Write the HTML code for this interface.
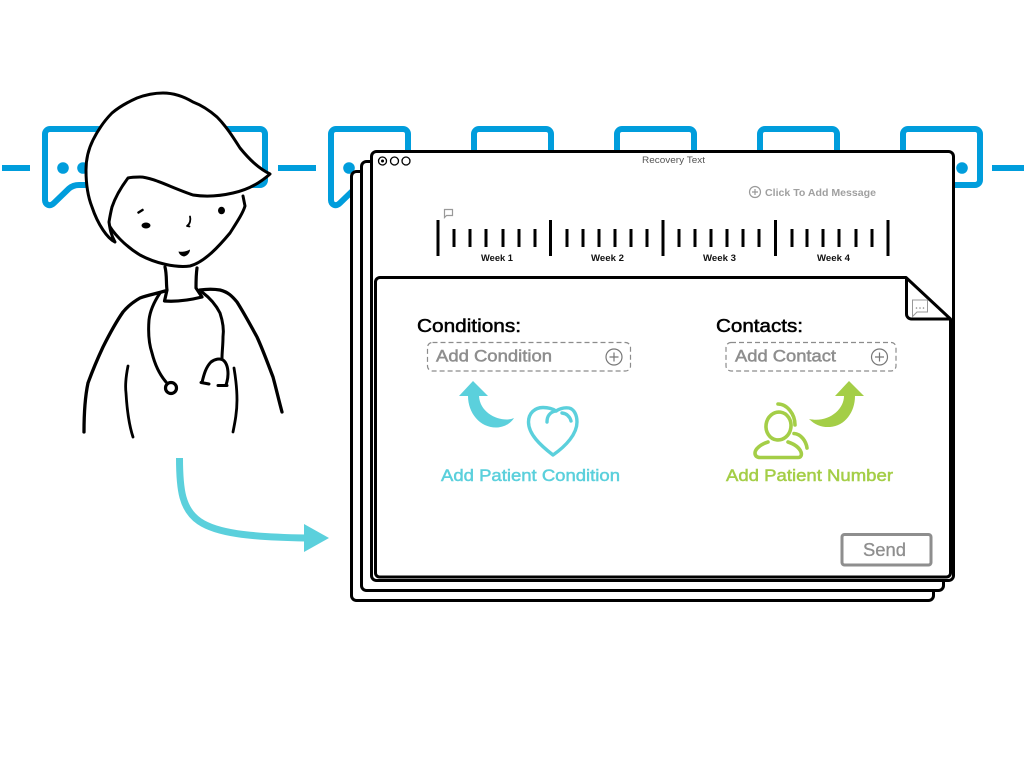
<!DOCTYPE html>
<html><head><meta charset="utf-8"><style>
html,body{margin:0;padding:0;background:#fff;width:1024px;height:768px;overflow:hidden}
svg{display:block}
text{font-family:"Liberation Sans",sans-serif}
</style></head><body>
<svg xmlns="http://www.w3.org/2000/svg" width="1024" height="768" viewBox="0 0 1024 768">
<defs>
<path id="b" d="M8,129H75a5,5 0 0 1 5,5V180a5,5 0 0 1 -5,5H37C33,185 30,186 27,188.500L12,203C8,207 3,205 3,200V134a5,5 0 0 1 5,-5Z" fill="#fff" stroke="#009ddc" stroke-width="6" stroke-linejoin="round"/>
</defs>
<g fill="#009ddc">
<rect x="2" y="165" width="28" height="6"/><rect x="278" y="165" width="38" height="6"/><rect x="992" y="165" width="32" height="6"/>
</g>
<use href="#b" x="42"/><use href="#b" x="185"/><use href="#b" x="328"/><use href="#b" x="471"/><use href="#b" x="614"/><use href="#b" x="757"/><use href="#b" x="900"/>
<g fill="#009ddc">
<circle cx="63" cy="168" r="5.800"/><circle cx="83" cy="168" r="5.800"/><circle cx="349" cy="168" r="5.800"/><circle cx="962" cy="168" r="5.800"/>
</g>

<g fill="#fff" stroke="#000" stroke-width="3">
<rect x="351.500" y="171.500" width="582" height="429" rx="5"/>
<rect x="361.500" y="161.500" width="582" height="429" rx="5"/>
<rect x="371.500" y="151.500" width="582" height="429" rx="5"/>
</g>
<g fill="none" stroke="#000" stroke-width="1.300">
<circle cx="382.500" cy="161" r="4"/><circle cx="394.500" cy="161" r="4"/><circle cx="406" cy="161" r="4"/>
</g>
<circle cx="382.500" cy="161" r="1.500"/>
<text x="642" y="163" font-size="9" fill="#555" textLength="63" lengthAdjust="spacingAndGlyphs">Recovery Text</text>

<g fill="none" stroke="#999" stroke-width="1.200"><circle cx="755" cy="192" r="5.500"/><path d="M752,192H758M755,189V195"/></g>
<text x="765" y="196" font-size="10.500" font-weight="bold" fill="#a0a0a0" textLength="111" lengthAdjust="spacingAndGlyphs">Click To Add Message</text>

<path d="M444.500,209.500H452.500V215.500H446.500L444.500,217.500Z" fill="none" stroke="#999" stroke-width="1.200"/>

<g stroke="#000" stroke-width="3">
<path d="M438,220V256M550.500,220V256M663,220V256M775.500,220V256M888,220V256"/>
<path d="M454,229V247M470,229V247M486,229V247M503,229V247M519,229V247M535,229V247M567,229V247M583,229V247M599,229V247M615,229V247M631,229V247M647,229V247M679,229V247M695,229V247M711,229V247M727,229V247M743,229V247M759,229V247M792,229V247M807,229V247M823,229V247M839,229V247M856,229V247M872,229V247"/>
</g>
<g font-size="9" font-weight="bold" fill="#111">
<text x="481" y="261" textLength="32" lengthAdjust="spacingAndGlyphs">Week 1</text>
<text x="591" y="261" textLength="33" lengthAdjust="spacingAndGlyphs">Week 2</text>
<text x="703" y="261" textLength="33" lengthAdjust="spacingAndGlyphs">Week 3</text>
<text x="817" y="261" textLength="33" lengthAdjust="spacingAndGlyphs">Week 4</text>
</g>

<path d="M380,277.500H906L950.500,319V573a4,4 0 0 1 -4,4H379.500a4,4 0 0 1 -4,-4V282a4.500,4.500 0 0 1 4.500,-4.500Z" fill="#fff" stroke="#000" stroke-width="3" stroke-linejoin="round"/>
<path d="M906.500,277.500V314a5,5 0 0 0 5,5H950.500" fill="none" stroke="#000" stroke-width="3"/>
<path d="M912.500,300H927.500V312H917L912.500,316.500Z" fill="#fff" stroke="#999" stroke-width="1"/>
<g fill="#888"><circle cx="916.500" cy="308" r=".8"/><circle cx="920" cy="308" r=".8"/><circle cx="923.500" cy="308" r=".8"/></g>

<text x="417" y="332" font-size="18" fill="#000" stroke="#000" stroke-width=".5" textLength="104" lengthAdjust="spacingAndGlyphs">Conditions:</text>
<text x="716" y="332" font-size="18" fill="#000" stroke="#000" stroke-width=".5" textLength="87" lengthAdjust="spacingAndGlyphs">Contacts:</text>

<rect x="427.500" y="342.500" width="203" height="28.500" rx="5" fill="none" stroke="#8c8c8c" stroke-width="1.200" stroke-dasharray="5 3"/>
<rect x="726" y="342.500" width="170" height="28.500" rx="5" fill="none" stroke="#8c8c8c" stroke-width="1.200" stroke-dasharray="5 3"/>
<text x="436" y="361.500" font-size="17" fill="#8e8e8e" stroke="#8e8e8e" stroke-width=".5" textLength="116" lengthAdjust="spacingAndGlyphs">Add Condition</text>
<text x="735" y="361.500" font-size="17" fill="#8e8e8e" stroke="#8e8e8e" stroke-width=".5" textLength="101" lengthAdjust="spacingAndGlyphs">Add Contact</text>
<g fill="none" stroke="#777" stroke-width="1.200">
<circle cx="614" cy="357" r="8"/><path d="M609.500,357H618.500M614,352.500V361.500"/>
<circle cx="879.500" cy="357" r="8"/><path d="M875,357H884M879.500,352.500V361.500"/>
</g>

<path d="M473,381L459,396H468C468,413 480,428 497,427.500C505,427 511,423 514,418C503,423 480,415 479,396H488Z" fill="#5bd0dc"/>
<g fill="none" stroke="#5bd0dc" stroke-width="3.400" stroke-linecap="round" stroke-linejoin="round">
<path d="M553,455C540,445 528.500,434 528.500,422C528.500,413 535,407.500 543,407.500C549,407.500 553,409 556,411C560,408.500 565,407.500 569,408C574,409 577,415 577,422C577,434 566,446 553,455Z"/>
<path d="M547,422C547,416 550,412 556,411"/>
<path d="M562,413C567,413.500 570,417 571,421"/>
</g>
<text x="441" y="481" font-size="17" fill="#5bd0dc" stroke="#5bd0dc" stroke-width=".5" textLength="179" lengthAdjust="spacingAndGlyphs">Add Patient Condition</text>

<path d="M849,381L835,396H844C844,410 828,423 809,419C815,425 822,427.500 830,427C845,426 855,412 855,396H864Z" fill="#a4ce47"/>
<g fill="none" stroke="#a4ce47" stroke-width="3.600" stroke-linecap="round" stroke-linejoin="round">
<ellipse cx="778.500" cy="426" rx="12.500" ry="14" transform="rotate(8 778.500 426)"/>
<path d="M778,404C787,404 795,414 795,425"/>
<path d="M794,433.500C801,434 806,441 807,448"/>
<path d="M768,442C761,444 755,449 755,453C755,456 757,457.500 760,457.500H798C801,457.500 802,455 801,452C799,447 794,444 788,442"/>
</g>
<text x="726" y="481" font-size="17" fill="#a4ce47" stroke="#a4ce47" stroke-width=".5" textLength="167" lengthAdjust="spacingAndGlyphs">Add Patient Number</text>

<rect x="842" y="534.500" width="89" height="30.500" rx="2.500" fill="#fff" stroke="#8e8e8e" stroke-width="3"/>
<text x="863" y="556" font-size="18" fill="#8e8e8e" stroke="#8e8e8e" stroke-width=".3" textLength="43" lengthAdjust="spacingAndGlyphs">Send</text>

<path d="M179.500,458C179.500,522 190,536 306,538" fill="none" stroke="#5bd0dc" stroke-width="7"/>
<path d="M304,524L329,538L304,552Z" fill="#5bd0dc"/>

<g fill="#fff" stroke="#000" stroke-width="3" stroke-linecap="round" stroke-linejoin="round">
<path d="M108,223C112,232 125,246 140,255C155,263 175,268 190,266C205,262 220,245 230,233C237,222 243,213 245,206L243,196L200,170L130,170Z" stroke="none"/>
<path d="M108,223C112,232 125,246 140,255C155,263 175,268 190,266C205,262 220,245 230,233C237,222 243,213 245,206L243,196" fill="none"/>
<path d="M270,174C258,168 249,159 240,148C233,137 226,126 217,117C209,110 201,105 193,102C183,96 173,93 163,93C153,93 145,95 137,98C128,102 119,107 112,113C104,121 98,130 93,140C88,150 86,160 86,170C86,185 88,197 92,207C95,216 99,224 103,230C107,236 111,240 115,242C111,235 110,229 109,222C110,216 111,211 112,207C116,195 122,186 128,178C132,177 136,177 140,177C152,177 172,188 193,195C206,197 220,196 233,193C247,190 260,183 270,174Z"/>
</g>
<g fill="none" stroke="#000" stroke-linecap="round" stroke-linejoin="round" stroke-width="3">
<path d="M165,267C167,275 166,283 167,290L164.500,301C178,302 190,300 202,297L196,288C196,281 196,275 197,268" stroke-width="3.200"/>
<path d="M165,291C155,294 148,295 140,298C133,302 128,306 123,312C116,322 109,335 103,347C96,362 92,372 88,383C85,397 84,415 84,432" stroke-width="3.300"/>
<path d="M200,290C207,289 214,289 220,290C228,292 232,296 237,302C244,313 251,326 257,337C263,350 268,364 273,377C276,388 279,401 282,412" stroke-width="3.300"/>
<path d="M160,293C154,302 150,311 149,320C148,333 149,344 152,353C155,365 160,375 166,382"/>
<circle cx="171" cy="388" r="5.500" stroke-width="3.200"/>
<path d="M202,292C210,298 216,305 220,313C223,322 224,330 223,337C223,345 222,352 222,358"/>
<path d="M202,382.500C204,374 206,367 211,362C215,359 220,358 223,360C227,363 228,368 228,374C228,378 227,382 226,385"/>
<path d="M201,382.500L209,384M218,385.500H227"/>
<path d="M128,366C126,376 125,385 126,393C127,410 129,425 133,437" stroke-width="2.800"/>
<path d="M234,368C236,380 237,390 237,400C237,412 235,422 233,432" stroke-width="2.800"/>
<path d="M138.500,212.500L142.500,210" stroke-width="2.500"/>
<path d="M190,216.500C191,220 190,224 187,226L189.500,226.500" stroke-width="1.800"/>
</g>
<ellipse cx="146" cy="225.500" rx="4.500" ry="3"/>
<ellipse cx="221.500" cy="210.500" rx="3.500" ry="3.800"/>
<path d="M178.500,251.500C182,252 185,252 190,249.500C190,253 187,256 184,256.500C181,256 179,254 178.500,251.500Z"/>
</svg>
</body></html>
